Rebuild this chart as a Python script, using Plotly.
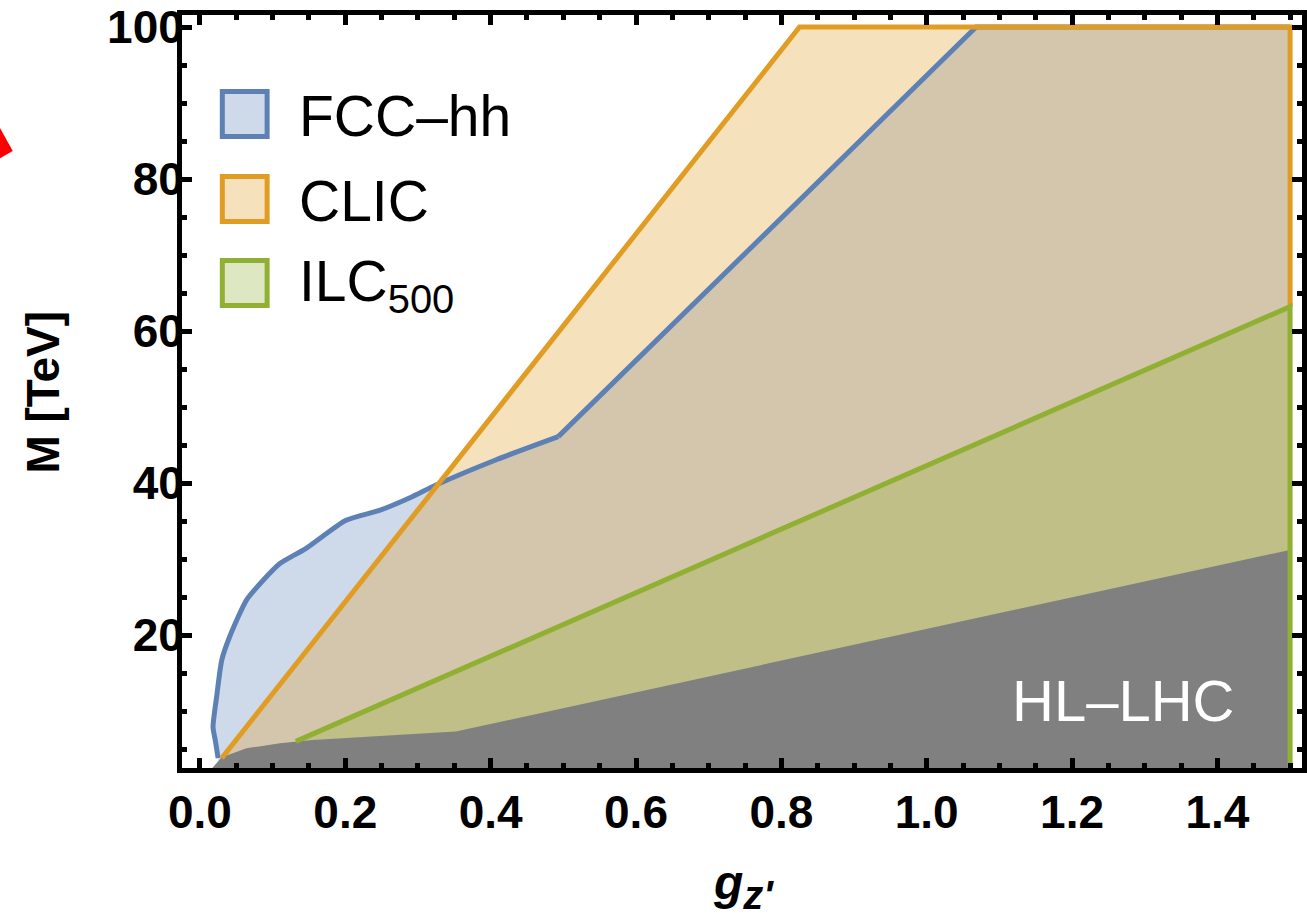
import plotly.graph_objects as go

# Reach boundaries in the (g_Z', M) plane
fcc_g = [0.025, 0.021, 0.018, 0.023, 0.030, 0.041, 0.064, 0.087, 0.110, 0.146,
         0.201, 0.247, 0.292, 0.324, 0.406, 0.493, 1.068, 1.5]
fcc_m = [3.8, 6.2, 7.9, 11.9, 16.7, 19.8, 24.6, 27.2, 29.4, 31.4,
         35.1, 36.4, 38.2, 39.7, 43.0, 46.1, 100.0, 100.0]
FCC_KINK = 15  # index where the smooth low-mass part turns into a straight edge

clic_g = [0.030, 0.825, 1.5, 1.5]
clic_m = [3.8, 100.0, 100.0, 63.2]

ilc_g = [0.132, 1.5, 1.5]
ilc_m = [6.0, 63.2, 0.0]

hl_g = [0.016, 0.030, 0.064, 0.110, 0.155, 0.352, 1.5]
hl_m = [2.4, 3.9, 5.1, 5.75, 6.2, 7.3, 31.2]

G_MAX = 1.5
M_FLOOR = 0.0

legend_names = ["FCC\u2013hh", "CLIC", "ILC<sub>500</sub>"]

BLUE = "#5E81B5"
ORANGE = "#E19C24"
GREEN = "#8FB032"
GRAY = "#808080"


def rgba(hexcol, a):
    h = hexcol.lstrip("#")
    r, g, b = int(h[0:2], 16), int(h[2:4], 16), int(h[4:6], 16)
    return f"rgba({r},{g},{b},{a})"


def closed(gs, ms):
    """Close a boundary down to the floor of the plot."""
    xs = list(gs) + [G_MAX, gs[0]]
    ys = list(ms) + [M_FLOOR, M_FLOOR]
    return xs, ys


fig = go.Figure()

# filled regions
for gs, ms, col in [(fcc_g, fcc_m, BLUE), (clic_g, clic_m, ORANGE), (ilc_g, ilc_m, GREEN)]:
    xs, ys = closed(gs, ms)
    fig.add_trace(go.Scatter(x=xs, y=ys, mode="lines", fill="toself",
                             fillcolor=rgba(col, 0.3), line=dict(width=0),
                             hoverinfo="skip", showlegend=False))

xs, ys = closed(hl_g, hl_m)
fig.add_trace(go.Scatter(x=xs, y=ys, mode="lines", fill="toself",
                         fillcolor=GRAY, line=dict(width=0),
                         hoverinfo="skip", showlegend=False))

# boundary lines: smooth low-mass part of FCC-hh, then straight edges
fig.add_trace(go.Scatter(x=fcc_g[:FCC_KINK + 1], y=fcc_m[:FCC_KINK + 1], mode="lines",
                         line=dict(color=BLUE, width=5, shape="spline", smoothing=0.6),
                         hoverinfo="skip", showlegend=False))
fig.add_trace(go.Scatter(x=fcc_g[FCC_KINK:], y=fcc_m[FCC_KINK:], mode="lines",
                         line=dict(color=BLUE, width=5),
                         hoverinfo="skip", showlegend=False))
for gs, ms, col in [(clic_g, clic_m, ORANGE), (ilc_g, ilc_m, GREEN)]:
    fig.add_trace(go.Scatter(x=gs, y=ms, mode="lines",
                             line=dict(color=col, width=5),
                             hoverinfo="skip", showlegend=False))

W, H = 1307, 918
ML, MR, MT, MB = 182, 0, 15, 150
PW, PH = W - ML - MR, H - MT - MB


def px(x):
    return (x - ML) / PW


def py(y):
    return (H - MB - y) / PH


def note(x, y, text, size, color="black", anchor="center", angle=0):
    fig.add_annotation(x=px(x), y=py(y), xref="paper", yref="paper",
                       text=text, showarrow=False, xanchor=anchor, yanchor="middle",
                       textangle=angle,
                       font=dict(family="Liberation Sans", size=size, color=color))


# legend glyphs and labels
leg_y = [114, 199, 283]
for name, col, yc in zip(legend_names, [BLUE, ORANGE, GREEN], leg_y):
    fig.add_shape(type="rect", xref="paper", yref="paper",
                  x0=px(222.5), x1=px(267.5), y0=py(yc + 22.5), y1=py(yc - 22.5),
                  line=dict(color=col, width=5), fillcolor=rgba(col, 0.3))
    note(298, yc + 2, name, 57, anchor="left")

note(1127, 700, "HL\u2013LHC", 58, color="white")

# axis titles
note(42, 392, "<b>M [TeV]</b>", 46, angle=-90)
note(746, 886, "<b><i>g<sub><span style='font-size:40px'>z'</span></sub></i></b>", 48)

# red marker at the left edge
fig.add_shape(type="path", xref="paper", yref="paper",
              path=f"M {px(-2)},{py(126)} L {px(12)},{py(151)} L {px(-2)},{py(159)} Z",
              fillcolor="#FF0000", line=dict(width=0), layer="above")

axis_common = dict(
    showline=True, linecolor="black", linewidth=5, mirror="allticks",
    ticks="inside", ticklen=10, tickwidth=5, tickcolor="black",
    showgrid=False, zeroline=False,
    tickfont=dict(family="Liberation Sans", size=46, color="black", weight="bold"),
)

fig.update_xaxes(range=[-0.0247, 1.5164], tickvals=[0, 0.2, 0.4, 0.6, 0.8, 1.0, 1.2, 1.4],
                 ticktext=["0.0", "0.2", "0.4", "0.6", "0.8", "1.0", "1.2", "1.4"],
                 minor=dict(ticks="inside", ticklen=5, tickwidth=5, tickcolor="black",
                            dtick=0.05, tick0=0, showgrid=False),
                 ticklabelstandoff=0, **axis_common)
fig.update_yaxes(range=[2.5, 101.58], tickvals=[20, 40, 60, 80, 100],
                 minor=dict(ticks="inside", ticklen=5, tickwidth=5, tickcolor="black",
                            dtick=5, tick0=0, showgrid=False),
                 ticklabelstandoff=-16, **axis_common)

fig.update_layout(width=W, height=H, margin=dict(l=ML, r=MR, t=MT, b=MB),
                  plot_bgcolor="white", paper_bgcolor="white", showlegend=False)

fig.write_html("out.html")
